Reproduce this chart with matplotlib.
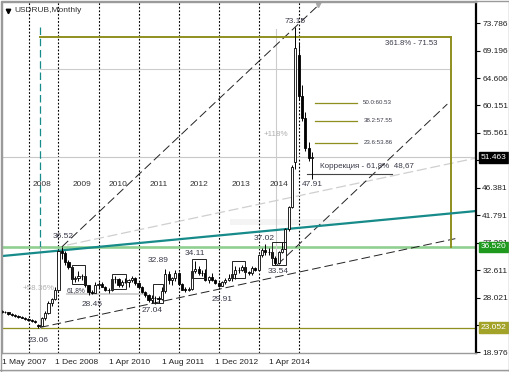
import matplotlib
matplotlib.use('Agg')
import matplotlib.pyplot as plt
from matplotlib.patches import Rectangle
import matplotlib.transforms as mtransforms

plt.rcParams['font.family'] = ['Liberation Sans', 'DejaVu Sans']

# ---------------- data (monthly bars, index 0 = Aug 2007) ----------------
opens = [25.75, 25.70, 25.60, 25.30, 25.15, 25.05, 24.90, 24.75, 24.50, 24.35, 24.20, 23.50,
         23.40, 24.60, 25.50, 27.20, 27.80, 29.40, 35.90, 35.50, 34.00, 33.10, 31.10, 31.30,
         31.60, 31.70, 30.10, 29.00, 28.90, 30.25, 30.40, 29.90, 29.40, 29.30, 31.20, 31.15,
         30.20, 30.75, 30.60, 31.00, 31.30, 30.50, 29.80, 29.00, 28.45, 27.75, 28.00, 27.95,
         27.90, 29.20, 32.00, 31.00, 31.30, 32.20, 30.30, 29.40, 29.35, 29.45, 32.45, 32.80,
         32.20, 32.15, 31.05, 31.50, 31.05, 30.55, 30.05, 30.60, 31.05, 31.30, 31.95, 32.70,
         32.60, 33.15, 32.35, 32.10, 33.05, 32.70, 35.20, 36.00, 35.65, 35.70, 34.75, 33.85,
         35.75, 36.20, 39.45, 43.10, 50.70, 68.50, 61.60, 58.00, 53.00, 51.30]
highs = [25.95, 25.80, 25.70, 25.45, 25.30, 25.20, 25.05, 24.90, 24.65, 24.50, 24.35, 23.65,
         24.90, 25.90, 27.50, 28.00, 29.80, 36.00, 36.52, 35.80, 34.40, 33.20, 31.60, 32.50,
         32.00, 31.80, 30.20, 29.40, 30.60, 30.70, 30.60, 30.00, 29.70, 31.50, 31.70, 31.30,
         31.00, 31.40, 31.10, 31.70, 31.50, 30.60, 30.00, 29.10, 28.60, 28.50, 28.30, 28.30,
         29.90, 32.89, 32.50, 31.50, 32.70, 32.30, 30.50, 29.90, 29.90, 33.50, 34.11, 33.40,
         32.60, 32.80, 31.70, 32.10, 31.20, 30.60, 30.80, 31.30, 32.00, 32.00, 33.30, 33.20,
         33.50, 33.40, 32.50, 33.40, 33.20, 35.30, 36.40, 37.02, 36.30, 35.80, 35.00, 35.90,
         37.40, 39.60, 43.40, 50.20, 73.15, 70.50, 63.50, 59.00, 54.00, 52.40]
lows = [25.55, 25.45, 25.20, 25.05, 24.90, 24.75, 24.60, 24.40, 24.20, 24.05, 23.85, 23.06,
        23.30, 24.40, 25.30, 26.60, 27.60, 29.20, 34.50, 33.50, 32.80, 30.90, 30.60, 30.90,
        31.00, 29.90, 28.45, 28.70, 28.80, 29.70, 29.80, 29.20, 28.90, 29.10, 30.50, 29.90,
        29.80, 30.50, 29.80, 30.70, 30.20, 29.70, 28.80, 28.20, 27.40, 27.20, 27.04, 27.25,
        27.60, 28.90, 30.40, 30.20, 30.80, 30.20, 29.30, 29.00, 29.20, 29.30, 32.10, 31.90,
        31.60, 30.80, 30.50, 30.90, 30.40, 29.91, 29.95, 30.30, 30.90, 30.90, 31.20, 32.20,
        32.50, 31.90, 31.80, 31.90, 32.50, 32.60, 34.80, 35.20, 35.10, 34.20, 33.54, 33.60,
        35.50, 36.10, 39.20, 43.00, 49.50, 61.00, 57.50, 52.50, 50.80, 47.91]
closes = [25.70, 25.60, 25.30, 25.15, 25.05, 24.90, 24.75, 24.50, 24.35, 24.20, 24.00, 23.40,
          24.60, 25.50, 27.20, 27.80, 29.40, 35.90, 35.50, 34.00, 33.10, 31.10, 31.30, 31.60,
          31.70, 30.10, 29.00, 28.90, 30.25, 30.40, 29.90, 29.40, 29.30, 31.20, 31.15, 30.20,
          30.75, 30.60, 31.00, 31.30, 30.50, 29.80, 29.00, 28.45, 27.75, 28.00, 27.95, 27.90,
          29.20, 32.00, 31.00, 31.30, 32.20, 30.30, 29.40, 29.35, 29.45, 32.45, 32.80, 32.20,
          32.15, 31.05, 31.50, 31.05, 30.55, 30.05, 30.60, 31.05, 31.30, 31.95, 32.70, 32.60,
          33.15, 32.35, 32.10, 33.05, 32.70, 35.20, 36.00, 35.65, 35.70, 34.75, 33.85, 35.75,
          36.20, 39.45, 43.10, 49.80, 69.70, 61.60, 58.00, 53.00, 51.30, 51.463]

# price axis labels (as printed by the terminal); hidden ones sit under value boxes
price_ticks = [73.786, 69.196, 64.606, 60.151, 55.561, 50.971, 46.381, 41.791,
               37.201, 32.611, 28.021, 23.431, 18.976]
hidden_ticks = [50.971, 23.431]
# date labels on the time axis
date_label_idx = [0.06, 16, 32, 48, 64, 80]
date_labels = ['1 May 2007', '1 Dec 2008', '1 Apr 2010', '1 Aug 2011', '1 Dec 2012', '1 Apr 2014']
# period separators and year captions
separators = [8.2, 17, 29, 41, 53, 65, 77, 89]
years = ['2008', '2009', '2010', '2011', '2012', '2013', '2014']
year_idx = [12.1, 24.1, 35.0, 47.2, 59.2, 71.8, 83.0]

# horizontal levels
bid_price = 51.463
support_level = 36.52
low_level = 23.052
fib_top = 71.53
fib_mid = 66.2
correction = 48.67
fib_levels = [60.53, 57.55, 53.86]
fib_texts = ['50.0:60.53', '38.2:57.55', '23.6:53.86']

# trend lines (index, price) anchor pairs
teal_line = [(0.06, 35.0), (142.2, 42.5)]
grey_line = [(19.6, 36.83), (142.2, 51.33)]
upper_chan = [(18.0, 36.52), (93.1, 75.84)]
upper_chan2 = [(82.6, 33.54), (133.6, 60.33)]
lower_chan = [(11.5, 23.1), (136.0, 37.9)]

# rectangles marking consolidation zones: (idx0, idx1, low, high)
boxes = [(21, 25, 30.34, 33.50), (33, 37.3, 29.50, 32.00), (45.4, 48.4, 27.17, 30.34),
         (57, 61.3, 31.30, 34.50), (69, 73, 31.30, 34.17), (81, 85.3, 33.50, 37.34)]

# price labels: (idx, price, text)
price_notes = [(18.4, 38.22, '36.52'), (10.9, 21.0, '23.06'), (27.1, 26.84, '28.45'),
               (45.2, 26.0, '27.04'), (47.0, 34.2, '32.89'), (57.8, 35.5, '34.11'),
               (66.2, 27.83, '29.91'), (78.8, 38.0, '37.02'), (83.0, 32.38, '33.54'),
               (88.0, 74.05, '73.15'), (93.0, 47.0, '47.91')]

# ---------------- figure ----------------
W, H = 510, 372
fig = plt.figure(figsize=(W / 100, H / 100), dpi=100)
fig.patch.set_facecolor('white')
ax = fig.add_axes([2 / W, 1 - 353 / H, 474 / W, 351 / H])
ax.set_xlim(0.06, 142.2)
ax.set_ylim(18.84, 77.34)
ax.set_facecolor('white')

OLIVE = '#8f8f1f'
TEAL = '#178a8a'
LGREEN = '#8fcf8f'
TXT = '#3a3a4a'

# separators
for s in separators:
    ax.axvline(s, color='black', ls=(0, (1.6, 1.6)), lw=0.8, zorder=1)

# faint band
ax.add_patch(Rectangle((68.5, 40.13), 33, 1.0, fc='#f4f4f4', ec='none', zorder=0.5))

# horizontal levels
ax.axhline(bid_price, color='#c8c8c8', lw=0.8, zorder=1)
ax.axhline(support_level, color=LGREEN, lw=1.9, zorder=1.2)
ax.axhline(low_level, color=OLIVE, lw=0.9, zorder=1.2)

# fib expansion frame
ax.plot([11.46, 134.8], [fib_top, fib_top], color=OLIVE, lw=1.4, zorder=2)
ax.plot([134.8, 134.8], [fib_top, support_level], color=OLIVE, lw=1.4, zorder=2)
ax.plot([11.46, 134.8], [fib_mid, fib_mid], color='#cccccc', lw=0.8, zorder=1)
ax.text(122.8, 70.5, '361.8% - 71.53', fontsize=5.6, color=TXT, ha='center', va='center', zorder=4)

# measurement verticals
ax.plot([11.46, 11.46], [73.15, support_level], color=TEAL, lw=0.9, ls=(0, (6, 3)), zorder=1.5)
ax.plot([11.46, 11.46], [23.06, support_level], color='#bbbbbb', lw=0.8, zorder=1.5)
ax.plot([82.2, 82.2], [33.54, 72.8], color='#cccccc', lw=0.8, zorder=1.5)
ax.text(11.0, 29.67, '+58.36%', fontsize=5.8, color='#b0b0b0', ha='center', va='center', zorder=4)
ax.text(82.1, 55.2, '+118%', fontsize=5.8, color='#b0b0b0', ha='center', va='center', zorder=4)

# trend lines
def seg(p, **kw):
    ax.plot([p[0][0], p[1][0]], [p[0][1], p[1][1]], **kw)

def ext(p, x0, x1):
    (a, b), (c, d) = p
    k = (d - b) / (c - a)
    return [(x0, b + k * (x0 - a)), (x1, b + k * (x1 - a))]

seg(teal_line, color=TEAL, lw=1.6, zorder=2.2, solid_capstyle='butt')
seg(grey_line, color='#cfcfcf', lw=0.9, ls=(0, (8, 3)), zorder=1.4)
seg(ext(upper_chan, 18.0, 100.0), color='#222222', lw=0.7, ls=(0, (9, 4)), zorder=1.6)
seg(upper_chan2, color='#222222', lw=0.7, ls=(0, (9, 4)), zorder=1.6)
seg(lower_chan, color='#222222', lw=0.7, ls=(0, (9, 4)), zorder=1.6)

# 61.8% retracement line
ax.plot([19.6, 43.6], [28.6, 28.6], color='#d0d0d0', lw=1.4, zorder=1.3)
ax.text(22.3, 29.17, '61,8%', fontsize=4.8, color=TXT, ha='center', va='center', zorder=4)

# boxes
for x0, x1, lo, hi in boxes:
    ax.add_patch(Rectangle((x0, lo), x1 - x0, hi - lo, fc='none', ec='#222222', lw=0.7, zorder=3.5))

# candles
bw = 0.62
for i, (o, h, l, c) in enumerate(zip(opens, highs, lows, closes)):
    ax.plot([i, i], [l, h], color='black', lw=0.7, zorder=3, solid_capstyle='butt')
    bot = min(o, c)
    ht = max(abs(c - o), 0.08)
    fc = 'white' if c >= o else 'black'
    ax.add_patch(Rectangle((i - bw / 2, bot), bw, ht, fc=fc, ec='black', lw=0.6, zorder=3.2))

# fib retracement labels
for lv, tx in zip(fib_levels, fib_texts):
    ax.plot([94.0, 106.6], [lv, lv], color=OLIVE, lw=0.9, zorder=2)
    ax.text(108.4, lv, tx, fontsize=4.4, color=TXT, ha='left', va='center', zorder=4)

ax.plot([91.6, 117.1], [correction, correction], color='#444444', lw=0.8, zorder=2)
ax.text(95.5, 50.0, 'Коррекция - 61,8%  48,67', fontsize=5.8, color=TXT, ha='left', va='center', zorder=4)

for xi, yv, tx in price_notes:
    ax.text(xi, yv, tx, fontsize=6, color=TXT, ha='center', va='center', zorder=4)

for xi, yr in zip(year_idx, years):
    ax.text(xi, 46.9, yr, fontsize=6, color='#333333', ha='center', va='center', zorder=4)

# title
ax.plot([0.012], [0.975], marker='v', color='black', ms=3.2, transform=ax.transAxes, clip_on=False)
ax.text(0.027, 0.975, 'USDRUB,Monthly', transform=ax.transAxes, fontsize=6, color='#333333',
        ha='left', va='center')
ax.plot([0.666], [0.992], marker='v', color='#aaaaaa', ms=3, transform=ax.transAxes, clip_on=False)

# axes styling
ax.yaxis.tick_right()
ax.set_yticks(price_ticks)
ax.set_yticklabels(['' if v in hidden_ticks else f'{v:.3f}' for v in price_ticks],
                   fontsize=6, color='#222222')
ax.tick_params(axis='y', length=3, width=0.8, pad=1.5)
ax.set_xticks([])
for sp in ['left', 'top', 'bottom']:
    ax.spines[sp].set_color('#9a9a9a')
    ax.spines[sp].set_linewidth(1.0)
ax.spines['right'].set_color('black')
ax.spines['right'].set_linewidth(1.6)

# date labels
btr = mtransforms.blended_transform_factory(ax.transData, ax.transAxes)
for xi, lb in zip(date_label_idx, date_labels):
    ax.text(xi, -0.027, lb, transform=btr, fontsize=6, color='#222222', ha='left', va='center',
            clip_on=False)

# value boxes on the price scale
rtr = mtransforms.blended_transform_factory(fig.transFigure, ax.transData)
for val, txt, fc, tc in [(bid_price, '51.463', 'black', 'white'),
                         (support_level, '36.520', '#1f9a1f', 'white'),
                         (low_level, '23.052', '#a3a32a', 'white')]:
    ax.text(480.5 / W, val, txt, transform=rtr, fontsize=6, color=tc, ha='left', va='center',
            bbox=dict(boxstyle='square,pad=0.22', fc=fc, ec=fc), zorder=10, clip_on=False)

# outer frame
fig.add_artist(Rectangle((0.5 / W, 0.5 / H), (W - 1) / W, (H - 1) / H, transform=fig.transFigure,
                         fill=False, ec='#9a9a9a', lw=1.0))
fig.add_artist(plt.Line2D([0, 1], [1 - 369.5 / H, 1 - 369.5 / H], transform=fig.transFigure,
                          color='#9a9a9a', lw=1.0))

fig.savefig('out.png', dpi=100)
